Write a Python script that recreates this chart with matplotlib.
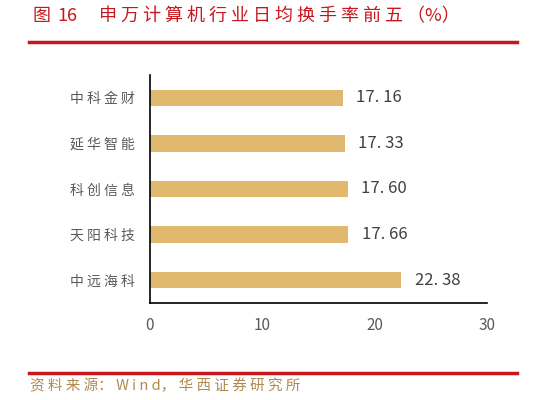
import numpy as np
import matplotlib.pyplot as plt

plt.rcParams['font.family'] = ['Noto Sans CJK SC', 'DejaVu Sans']

# data, top to bottom as shown
names = ["中科金财", "延华智能", "科创信息", "天阳科技", "中远海科"]
values = [17.16, 17.33, 17.60, 17.66, 22.38]
xticks = [0, 10, 20, 30]

bar_color = "#E0B96F"
red = "#C8161D"
gray = "#595959"


def spaced(s):
    # the source picture uses loosely spaced CJK text
    return " ".join(s)


fig = plt.figure(figsize=(5.33, 4.0), dpi=100)
ax = fig.add_axes([0.2814, 0.2425, 0.6323, 0.57])

y = np.arange(len(names))
ax.barh(y, values, height=0.36, color=bar_color)
ax.set_ylim(len(names) - 0.5, -0.5)
ax.set_xlim(0, 30)
ax.set_yticks(y)
ax.set_yticklabels([spaced(n) for n in names], fontsize=10, color=gray)
ax.set_xticks(xticks)
ax.set_xticklabels([str(t) for t in xticks], fontsize=11, color=gray)
ax.tick_params(axis="both", length=0)
ax.tick_params(axis="y", pad=11)
ax.tick_params(axis="x", pad=10)

for s in ["top", "right"]:
    ax.spines[s].set_visible(False)
ax.spines["left"].set_linewidth(1.2)
ax.spines["bottom"].set_linewidth(1.2)

for yi, v in zip(y, values):
    ax.text(v + 1.2, yi, f"{v:.2f}".replace(".", ". "), va="center", ha="left",
            fontsize=12, color="#404040")

# title and source with red rules
ty = 1 - 16 / 400
fig.text(32 / 533, ty, "图", fontsize=13, color=red, va="center", ha="left")
fig.text(57 / 533, ty, "16", fontsize=13, color=red, va="center", ha="left")
fig.text(99 / 533, ty, spaced("申万计算机行业日均换手率前五") + " （%）",
         fontsize=13, color=red, va="center", ha="left")
fig.add_artist(plt.Line2D([29 / 533, 517 / 533], [1 - 42 / 400] * 2, color=red, lw=2.5))
fig.add_artist(plt.Line2D([29 / 533, 517 / 533], [1 - 373 / 400] * 2, color=red, lw=2.5))
fig.text(30 / 533, 1 - 386 / 400, spaced("资料来源") + "： W i n d， " + spaced("华西证券研究所"),
         fontsize=10.5, color="#B08A4F", va="center", ha="left")

fig.savefig("out.png", dpi=100)
